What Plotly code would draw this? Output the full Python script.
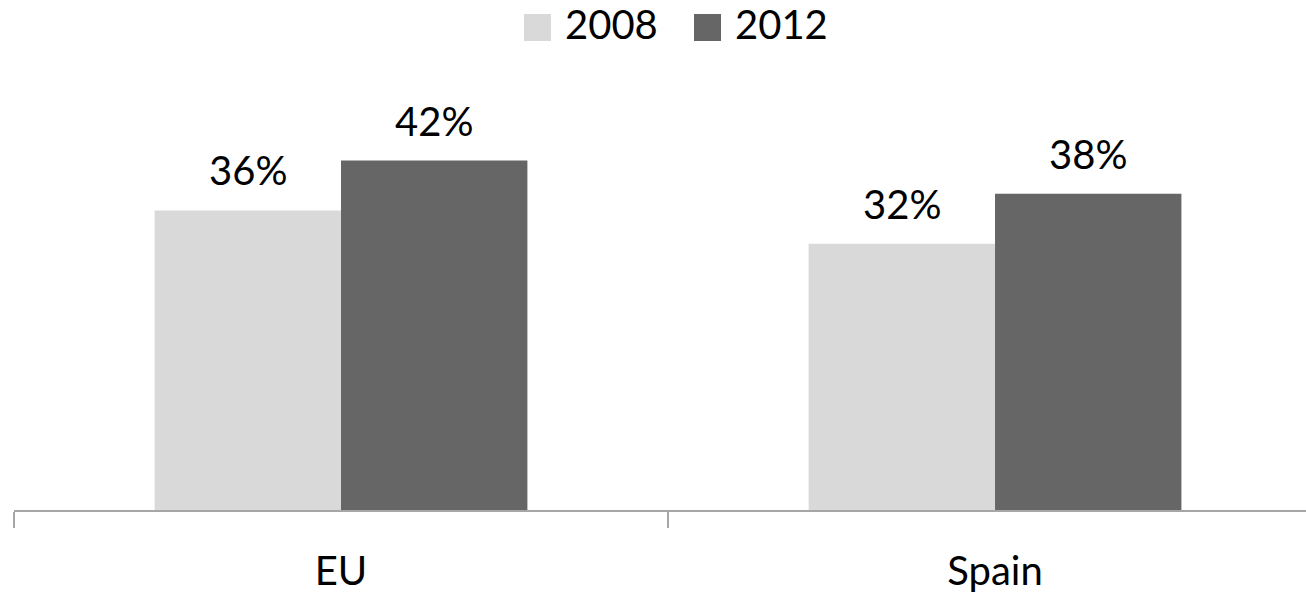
import plotly.graph_objects as go

categories = ["EU", "Spain"]
series_names = ["2008", "2012"]
values_2008 = [0.36, 0.32]
values_2012 = [0.42, 0.38]
series_values = [values_2008, values_2012]
colors = ["#d9d9d9", "#666666"]

W, H = 1306, 597
ML, MR, MT, MB = 14, 0, 94, 87
plot_w = W - ML - MR
plot_h = H - MT - MB
FONT = "Lato"
FS = 40

def px_to_paper_x(px):
    return (px - ML) / plot_w

def px_to_paper_y(py):
    return (H - MB - py) / plot_h

fig = go.Figure()
for name, vals, col in zip(series_names, series_values, colors):
    fig.add_trace(go.Bar(
        x=categories, y=vals, name=name,
        marker=dict(color=col, line=dict(width=0)),
        showlegend=False,
    ))

bargap = 0.43
bar_w_px = (1 - bargap) * (plot_w / (1.4755 + 0.5)) / 2

annotations = []
for i, (name, vals) in enumerate(zip(series_names, series_values)):
    shift = (i - 0.5) * bar_w_px
    for cat, v in zip(categories, vals):
        annotations.append(dict(
            x=cat, y=v, xref="x", yref="y",
            text=f"{round(v*100)}%", showarrow=False,
            xanchor="center", yanchor="bottom",
            xshift=shift, yshift=14,
            font=dict(family=FONT, size=FS, color="#000000"),
        ))

# legend (drawn manually to match large swatches)
legend_items = [(series_names[0], colors[0], 524, 565), (series_names[1], colors[1], 694, 735)]
shapes = []
for name, col, sx, tx in legend_items:
    shapes.append(dict(
        type="rect", xref="paper", yref="paper",
        x0=px_to_paper_x(sx), x1=px_to_paper_x(sx + 27),
        y0=px_to_paper_y(41), y1=px_to_paper_y(14),
        fillcolor=col, line=dict(width=0),
    ))
    annotations.append(dict(
        x=px_to_paper_x(tx - 2), y=px_to_paper_y(50), xref="paper", yref="paper",
        text=name, showarrow=False, xanchor="left", yanchor="bottom",
        font=dict(family=FONT, size=FS, color="#000000"),
    ))

fig.update_layout(
    width=W, height=H,
    margin=dict(l=ML, r=MR, t=MT, b=MB, autoexpand=False),
    paper_bgcolor="white", plot_bgcolor="white",
    barmode="group", bargap=bargap, bargroupgap=0,
    showlegend=False,
    font=dict(family=FONT, size=FS, color="#000000"),
    annotations=annotations,
    shapes=shapes,
)
fig.update_xaxes(
    range=[-0.5, 1.4755],
    showline=True, linecolor="#a6a6a6", linewidth=2,
    ticks="outside", tickson="boundaries", ticklen=16, tickwidth=2, tickcolor="#a6a6a6",
    tickfont=dict(family=FONT, size=FS, color="#000000"),
    ticklabelstandoff=25,
    showgrid=False, zeroline=False, automargin=False,
)
fig.update_yaxes(
    range=[0, 0.5], visible=False, showgrid=False, zeroline=False,
)

fig.write_html("out.html")
